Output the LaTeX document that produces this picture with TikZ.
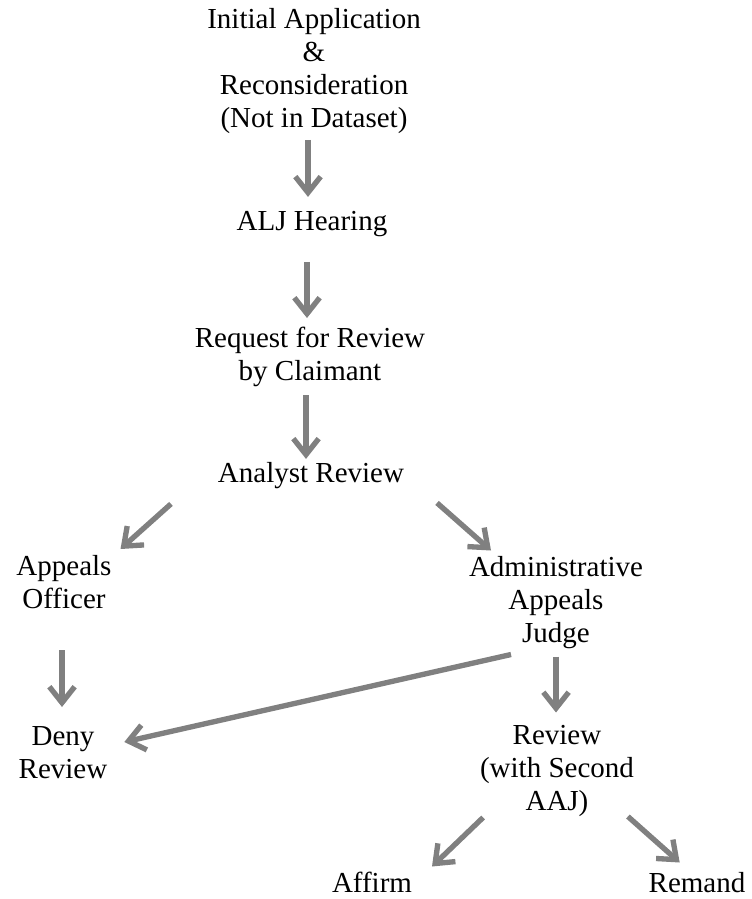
\documentclass[tikz,border=0pt]{standalone}
\usepackage{fontspec}
\setmainfont{Liberation Serif}
\usetikzlibrary{arrows.meta,calc}
\tikzset{
  lbl/.style={inner sep=0pt, outer sep=0pt, align=center, font=\fontsize{21.75}{24.75}\selectfont},
  conn/.style={draw=gray, line width=4pt, -{Straight Barb[length=12pt,width=19pt]}}
}
\begin{document}
\begin{tikzpicture}[x=0.75pt,y=-0.75pt]
\useasboundingbox (0,0) rectangle (752,899);
\node[lbl] (init) at (314,71.9) {\strut Initial Application\\\strut\&\\\strut Reconsideration\\\strut(Not in Dataset)};
\node[lbl] (alj) at (312,223.4) {\strut ALJ Hearing};
\node[lbl] (req) at (310,357) {\strut Request for Review\\\strut by Claimant};
\node[lbl] (analyst) at (311,475.4) {\strut Analyst Review};
\node[lbl] (officer) at (64,585) {\strut Appeals\\\strut Officer};
\node[lbl] (aaj) at (556,603) {\strut Administrative\\\strut Appeals\\\strut Judge};
\node[lbl] (deny) at (63,755) {\strut Deny\\\strut Review};
\node[lbl] (review) at (557,771) {\strut Review\\\strut (with Second\\\strut AAJ)};
\node[lbl] (affirm) at (372,886) {\strut Affirm};
\node[lbl] (remand) at (697,886) {\strut Remand};

\draw[conn] ($(init.south)+(-6,2)$) -- ($(alj.north)+(-4,-10)$);
\draw[conn] ($(alj.south)+(-5,22)$) -- ($(req.north)+(-3,-6)$);
\draw[conn] ($(req.south)+(-4,5)$) -- ($(analyst.north)+(-5,-0)$);
\draw[conn] ($(analyst.south west)+(-47,12)$) -- ($(officer.north east)+(9,-3)$);
\draw[conn] ($(analyst.south east)+(33,11)$) -- ($(aaj.north west)+(22,-3)$);
\draw[conn] ($(officer.south)+(-2,32)$) -- ($(deny.north)+(-1,-15)$);
\draw[conn] ($(aaj.south west)+(42,2)$) -- ($(deny.east)+(17,-13)$);
\draw[conn] ($(aaj.south)+(0,4)$) -- ($(review.north)+(-1,-9)$);
\draw[conn] ($(review.south west)+(3,-3)$) -- ($(affirm.north east)+(20,-3)$);
\draw[conn] ($(review.south east)+(-6,-4)$) -- ($(remand.north west)+(31,-7)$);
\end{tikzpicture}
\end{document}
